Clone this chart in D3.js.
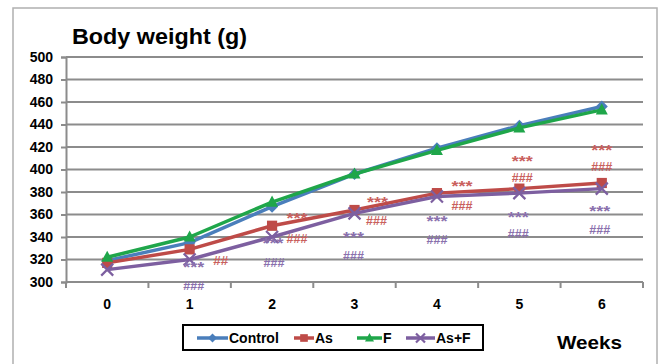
<!DOCTYPE html>
<html><head><meta charset="utf-8">
<script src="https://cdn.jsdelivr.net/npm/d3@7"></script>
<style>body{margin:0;background:#fff}svg{display:block}text{font-family:"Liberation Sans",Arial,sans-serif;font-weight:bold}</style>
</head><body><svg id="c" width="660" height="364"></svg>
<script>
const weeks = ["0","1","2","3","4","5","6"];
const yTicks = [300,320,340,360,380,400,420,440,460,480,500];
const seriesNames = ["Control","As","F","As+F"];
const control = [319,335,367,396,419,439,456];
const as = [317,329,350,364,379,383,388];
const f = [322,340,371,396,417,437,453];
const asF = [311,320,340,361,376,379,383];
// significance marks: [week, series, text, weight position, x offset]
const marks = [
 ["1","As+F","***",317,4],["1","As+F","###",297,4],["1","As","##",319,31],
 ["2","As","***",361,25],["2","As+F","***",339,1],["2","As","###",339,25],["2","As+F","###",317,2],
 ["3","As","***",375,23],["3","As","###",355,22],["3","As+F","***",344,-1],["3","As+F","###",324,-1],
 ["4","As","***",389,25],["4","As","###",368,25],["4","As+F","***",358,0],["4","As+F","###",338,0],
 ["5","As","***",412,3],["5","As","###",393,3],["5","As+F","***",362,-1],["5","As+F","###",343,-1],
 ["6","As","***",421,0],["6","As","###",403,0],["6","As+F","***",367,-2],["6","As+F","###",347,-2]
];
const colors = {"Control":"#4a7ebb","As":"#be4b48","F":"#1fa64a","As+F":"#7d5fa0"};
const markColors = {"As":"#c9605d","As+F":"#8a70ad"};
const series = [
 {name:"Control", values:control, marker:"diamond"},
 {name:"As", values:as, marker:"square"},
 {name:"F", values:f, marker:"triangle"},
 {name:"As+F", values:asF, marker:"x"}
];
const svg = d3.select("#c");
svg.append("rect").attr("x",13).attr("y",8).attr("width",644).attr("height",370)
  .attr("fill","#fff").attr("stroke","#b0b0b0").attr("stroke-width",1.5);
const x = d3.scaleBand().domain(weeks).range([66,643]);
const y = d3.scaleLinear().domain([300,500]).range([282,57]);
// gridlines
svg.append("g").selectAll("line").data(yTicks.filter(d=>d>300)).join("line")
  .attr("x1",66).attr("x2",643).attr("y1",d=>y(d)).attr("y2",d=>y(d))
  .attr("stroke","#8c8c8c").attr("stroke-width",2);
// y axis
const ya = svg.append("g").attr("transform","translate(66,0)")
  .call(d3.axisLeft(y).tickValues(yTicks).tickSize(5).tickPadding(8));
ya.select(".domain").attr("stroke","#8c8c8c").attr("stroke-width",2);
ya.selectAll(".tick line").attr("stroke","#8c8c8c").attr("stroke-width",2);
ya.selectAll("text").attr("font-size",14).attr("fill","#000").attr("font-family","Liberation Sans, Arial").attr("font-weight","bold");
// x axis
svg.append("line").attr("x1",66).attr("x2",643).attr("y1",y(300)).attr("y2",y(300))
  .attr("stroke","#8c8c8c").attr("stroke-width",2);
const edges = weeks.map(w=>x(w)).concat([x(weeks[weeks.length-1])+x.bandwidth()]);
svg.append("g").selectAll("line").data(edges).join("line")
  .attr("x1",d=>d).attr("x2",d=>d).attr("y1",y(300)).attr("y2",y(300)+6)
  .attr("stroke","#8c8c8c").attr("stroke-width",2);
const xa = svg.append("g").attr("transform",`translate(0,${y(300)})`)
  .call(d3.axisBottom(x).tickSize(0).tickPadding(17));
xa.select(".domain").remove();
xa.selectAll("text").attr("font-size",14).attr("fill","#000").attr("font-family","Liberation Sans, Arial").attr("font-weight","bold");
// lines
const cx = w=>x(w)+x.bandwidth()/2;
const line = d3.line().x((d,i)=>cx(weeks[i])).y(d=>y(d));
function drawMarker(g, type, px, py, col, s){
  if(type==="diamond"){
    g.append("path").attr("d",`M${px},${py-s}L${px+s},${py}L${px},${py+s}L${px-s},${py}Z`).attr("fill",col);
  } else if(type==="square"){
    g.append("rect").attr("x",px-s*0.85).attr("y",py-s*0.85).attr("width",s*1.7).attr("height",s*1.7).attr("fill",col);
  } else if(type==="triangle"){
    g.append("path").attr("d",`M${px},${py-s*1.1}L${px+s},${py+s*0.75}L${px-s},${py+s*0.75}Z`).attr("fill",col);
  } else {
    g.append("path").attr("d",`M${px-s},${py-s}L${px+s},${py+s}M${px-s},${py+s}L${px+s},${py-s}`).attr("stroke",col).attr("stroke-width",2.2);
  }
}
series.forEach(s=>{
  const g = svg.append("g");
  g.append("path").datum(s.values).attr("d",line).attr("fill","none")
    .attr("stroke",colors[s.name]).attr("stroke-width",3.5).attr("stroke-linejoin","round");
  s.values.forEach((v,i)=>drawMarker(g,s.marker,cx(weeks[i]),y(v),colors[s.name],6));
});
// significance marks
svg.append("g").selectAll("text").data(marks).join("text")
  .attr("x",d=>cx(d[0])+d[4]).attr("y",d=>y(d[3]))
  .attr("dy",d=>d[2].startsWith("*")?4:0)
  .attr("text-anchor","middle").attr("dominant-baseline","central")
  .attr("font-size",d=>d[2].startsWith("*")?15:13.5).attr("fill",d=>markColors[d[1]])
  .attr("textLength",d=>d[2].length===3?21:15).attr("lengthAdjust","spacingAndGlyphs")
  .text(d=>d[2]);
// title
svg.append("text").attr("x",72).attr("y",44).attr("font-size",22).attr("fill","#000")
  .attr("textLength",175).attr("lengthAdjust","spacingAndGlyphs").text("Body weight (g)");
svg.append("text").attr("x",557).attr("y",349).attr("font-size",19).attr("fill","#000")
  .attr("textLength",65).attr("lengthAdjust","spacingAndGlyphs").text("Weeks");
// legend
const lg = svg.append("g");
lg.append("rect").attr("x",183).attr("y",325).attr("width",300).attr("height",25)
  .attr("fill","#fff").attr("stroke","#000").attr("stroke-width",2);
const lx = [197,294,357,406];
const lw = [31,20,25,29];
series.forEach((s,i)=>{
  const yy = 338;
  lg.append("line").attr("x1",lx[i]).attr("x2",lx[i]+lw[i]).attr("y1",yy).attr("y2",yy)
    .attr("stroke",colors[s.name]).attr("stroke-width",3.5);
  drawMarker(lg,s.marker,lx[i]+lw[i]/2,yy,colors[s.name],4.5);
  lg.append("text").attr("x",lx[i]+lw[i]+1).attr("y",yy).attr("dominant-baseline","central")
    .attr("font-size",14).attr("fill","#000").text(s.name);
});
</script></body></html>
